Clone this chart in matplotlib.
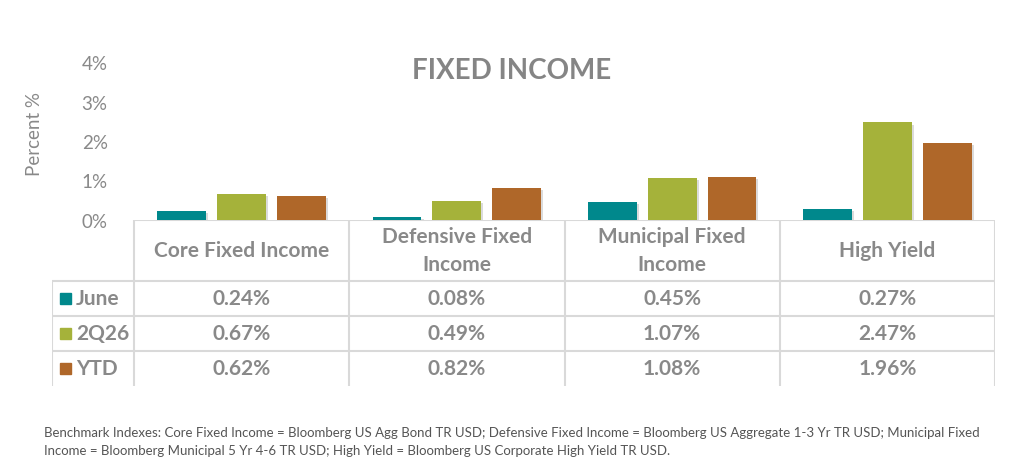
import numpy as np
import matplotlib.pyplot as plt
import matplotlib.patheffects as pe
from matplotlib.patches import Rectangle

categories = ["Core Fixed Income", "Defensive Fixed\nIncome", "Municipal Fixed\nIncome", "High Yield"]
series = ["June", "2Q26", "YTD"]
june = [0.24, 0.08, 0.45, 0.27]
q2 = [0.67, 0.49, 1.07, 2.47]
ytd = [0.62, 0.82, 1.08, 1.96]
colors = ["#00888C", "#A5B23A", "#AF6729"]
yticks = [0, 1, 2, 3, 4]

footnote = ("Benchmark Indexes: Core Fixed Income = Bloomberg US Agg Bond TR USD; Defensive Fixed Income = "
            "Bloomberg US Aggregate 1-3 Yr TR USD; Municipal Fixed\n"
            "Income = Bloomberg Municipal 5 Yr 4-6 TR USD; High Yield = Bloomberg US Corporate High Yield TR USD.")

txt = "#898989"
grid = "#D9D9D9"
plt.rcParams['font.family'] = ['Lato', 'DejaVu Sans']

W, H = 1024, 477
fig = plt.figure(figsize=(W / 100, H / 100), dpi=100)

# chart area (pixel layout from the reference)
x0, x1, y0, y1 = 134, 995, 221, 63
ax = fig.add_axes([x0 / W, 1 - y0 / H, (x1 - x0) / W, (y0 - y1) / H])
x = np.arange(len(categories))
offs = [-0.278, 0, 0.278]
shadow = [pe.SimplePatchShadow(offset=(1.5, -1.5), shadow_rgbFace="#999999", alpha=0.35), pe.Normal()]
for vals, off, c in zip([june, q2, ytd], offs, colors):
    bars = ax.bar(x + off, vals, width=0.227, color=c, zorder=3)
    for b in bars:
        b.set_path_effects(shadow)
ax.set_xlim(-0.5, len(categories) - 0.5)
ax.set_ylim(0, 4)
ax.set_yticks(yticks)
ax.set_yticklabels([f"{t}%" for t in yticks], color=txt, fontsize=13.5)
ax.tick_params(axis="y", length=0, pad=19)
ax.set_xticks([])
for s in ax.spines.values():
    s.set_visible(False)
ax.set_ylabel("Percent %", color=txt, fontsize=13.5)
ax.yaxis.set_label_coords(-91 / (x1 - x0), 0.55)

fig.text(512 / W, 1 - 71 / H, "FIXED INCOME", ha="center", va="center",
         fontsize=20, fontweight="bold", color="#858585")

# data table below the chart
unit = (x1 - x0) / len(categories)
tl, tb = 52, 387
tax = fig.add_axes([tl / W, 1 - tb / H, (x1 - tl) / W, (tb - y0) / H])
xmin = -0.5 - (x0 - tl) / unit
tax.set_xlim(xmin, len(categories) - 0.5)
tax.set_ylim(tb, y0)
tax.axis("off")

rows = [282, 317, 352]
tax.hlines(y0, -0.5, len(categories) - 0.5, color=grid, lw=1.5)
tax.hlines(rows, xmin, len(categories) - 0.5, color=grid, lw=1.5)
tax.vlines(np.arange(len(categories) + 1) - 0.5, y0, tb, color=grid, lw=1.5)
tax.vlines(xmin, rows[0], tb, color=grid, lw=1.5)

for i, cat in enumerate(categories):
    tax.text(i, 251, cat, ha="center", va="center", fontsize=15, fontweight="bold",
             color=txt, linespacing=1.45)

row_mid = [299.5, 334.5, 369.5]
for r, (name, vals, c) in enumerate(zip(series, [june, q2, ytd], colors)):
    ym = row_mid[r]
    sq = 11 / unit
    tax.add_patch(Rectangle((xmin + 8 / unit, ym - 5.5), sq, 11, color=c, clip_on=False))
    tax.text(xmin + 24 / unit, ym, name, ha="left", va="center", fontsize=15,
             fontweight="bold", color=txt)
    for i, v in enumerate(vals):
        tax.text(i, ym, f"{v:.2f}%", ha="center", va="center", fontsize=15,
                 fontweight="bold", color=txt)

fig.text(44 / W, 1 - 442 / H, footnote, ha="left", va="center", fontsize=9.5,
         color="#555555", linespacing=1.6)

fig.savefig("out.png", dpi=100, facecolor="white")
